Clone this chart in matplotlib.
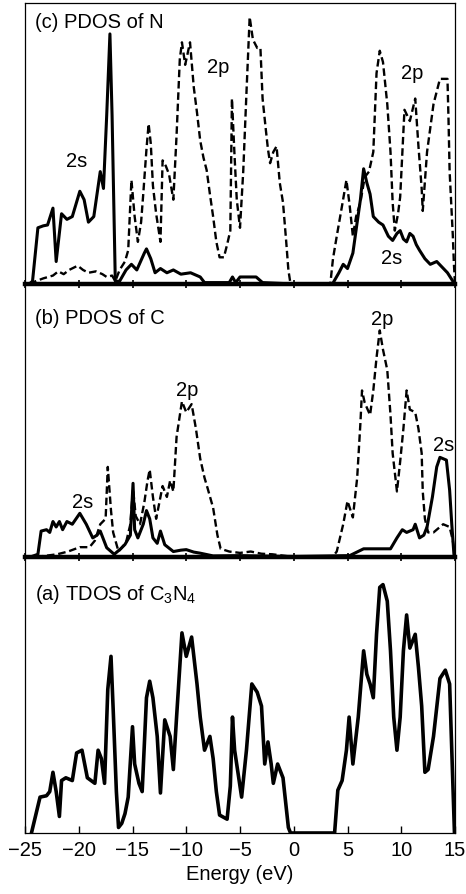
import matplotlib
matplotlib.use("Agg")
import matplotlib.pyplot as plt

plt.rcParams['font.family'] = ['Liberation Sans', 'DejaVu Sans']
plt.rcParams['mathtext.fontset'] = 'custom'
plt.rcParams['mathtext.rm'] = 'Liberation Sans'
plt.rcParams['mathtext.it'] = 'Liberation Sans'

# ---- (c) PDOS of N ----
n2s_e = [-24.6, -24.3, -23.8, -23.3, -22.9, -22.4, -22.1, -21.6, -21.1, -20.6, -19.9, -19.5,
         -19.1, -18.6, -18.0, -17.7, -17.4, -17.1, -16.9, -16.6, -16.2, -15.6, -15.1, -14.6,
         -13.9, -13.7, -13.3, -12.9, -12.4, -11.8, -11.2, -10.5, -9.6, -8.7, -8.3, -6.0,
         -5.7, -5.4, -5.0, -3.5, -2.9, 0.0, 3.6, 4.2, 4.6, 5.0, 5.5, 5.9, 6.2, 6.5, 6.8, 7.1,
         7.4, 7.9, 8.3, 8.8, 9.2, 9.6, 9.9, 10.2, 10.5, 10.8, 11.1, 11.4, 11.7, 12.2, 12.7,
         13.3, 13.8, 14.3, 14.8, 15.0]
n2s_v = [0, 1, 20, 20.7, 21, 27, 8, 25, 23, 24, 33, 30,
         22, 24, 40, 34, 60, 89, 60, 1, 1, 5, 7, 5,
         11, 12.5, 9, 4, 5.5, 4, 5, 3.5, 4, 2.5, 0.5, 0.5,
         2.5, 0.5, 2.5, 2.5, 0.5, 0, 0, 4, 7, 5.5, 11, 22, 30, 41, 36, 32,
         24, 22, 21, 17, 15.5, 18, 19, 16, 15, 18, 17, 14, 12, 9, 7,
         8, 6, 4, 1, 0]

n2p_e = [-24.6, -24.0, -23.3, -22.4, -21.9, -21.4, -20.9, -20.1, -19.6, -19.1, -18.4, -17.8,
         -17.4, -16.9, -16.6, -16.2, -15.7, -15.4, -15.1, -14.8, -14.5, -14.2, -14.0, -13.7,
         -13.5, -13.3, -13.1, -12.8, -12.4, -12.2, -11.9, -11.6, -11.2, -10.9, -10.6, -10.4,
         -10.1, -9.65, -9.3, -9.0, -8.7, -8.4, -8.1, -7.8, -7.5, -7.2, -6.9, -6.5, -6.2, -5.9,
         -5.75, -5.5, -5.3, -5.0, -4.7, -4.4, -4.1, -3.8, -3.4, -3.1, -2.9, -2.6, -2.4, -2.2,
         -1.9, -1.6, -1.3, -1.0, -0.7, -0.5, -0.3, 3.4, 3.65, 4.0, 4.5, 4.9, 5.2, 5.5, 5.8,
         6.2, 6.6, 7.0, 7.4, 7.7, 8.0, 8.3, 8.7, 9.0, 9.2, 9.4, 9.7, 9.9, 10.3, 10.8, 11.3,
         11.6, 11.9, 12.0, 12.4, 13.0, 13.6, 14.3, 14.4, 14.5, 14.8, 14.9, 15.0]
n2p_v = [0, 1, 2, 3, 4.5, 3.5, 5, 6.5, 5, 4, 4.5, 3.5,
         2.5, 3, 1, 5, 8, 12, 37, 24, 15, 22, 32, 48,
         57, 50, 35, 25, 15, 44, 42, 39, 30, 53, 80, 86,
         78, 86, 70, 61, 51, 45, 40.5, 32, 24, 15, 9.5, 9.5, 14, 19,
         66, 45, 30, 20, 40, 68, 95, 87, 84, 84, 66, 55, 48, 43,
         47, 49, 36, 29, 15, 5, 0, 0, 9, 17, 28, 37, 28, 17, 24,
         29, 38, 40, 47, 75, 83, 79, 64, 47, 29, 19, 25, 31, 62, 58, 66,
         49, 34, 26, 47, 64, 73, 73, 58, 40, 17, 7, 0]

# ---- (b) PDOS of C ----
c2s_e = [-24.5, -23.8, -23.5, -23.0, -22.7, -22.4, -22.1, -21.8, -21.5, -21.1, -20.6, -19.9,
         -19.3, -18.7, -18.3, -18.0, -17.4, -16.7, -16.1, -15.7, -15.2, -14.95, -14.8, -14.5,
         -14.0, -13.7, -13.4, -13.1, -12.7, -12.4, -12.0, -11.2, -10.5, -10.0, -9.3, -8.7,
         -7.5, -5.0, -2.0, 0.0, 5.2, 6.5, 9.0, 9.6, 10.1, 10.5, 11.1, 11.3, 11.7, 12.1, 12.4,
         12.9, 13.3, 13.6, 14.2, 14.5, 14.7, 14.9, 15.0]
c2s_v = [0, 1, 9.5, 10, 9, 13, 11, 13, 10, 13, 12, 16,
         12, 7, 8, 9.5, 3.4, 1, 3, 4.6, 8, 27, 10, 7,
         12, 17, 14, 7, 5, 9.5, 4.5, 2, 2.5, 2.7, 1.8, 1.4,
         0.4, 0.5, 0.3, 0.2, 0.5, 3, 3, 7, 10, 9, 10, 12, 7, 8, 11,
         22, 33, 36.5, 35.5, 24.5, 12, 1, 0]

c2p_e = [-24.0, -23.0, -22.0, -21.0, -19.9, -19.0, -18.5, -18.0, -17.5, -17.3, -17.0, -16.8,
         -16.3, -15.6, -15.2, -14.95, -14.7, -14.3, -13.9, -13.6, -13.4, -13.1, -12.8, -12.5,
         -12.2, -11.8, -11.5, -11.2, -10.9, -10.4, -10.0, -9.5, -9.1, -8.7, -8.3, -8.0, -7.5,
         -7.1, -6.8, -6.0, -5.0, -4.0, -3.0, -2.0, -1.0, 0.0, 3.6, 4.0, 4.6, 5.0, 5.5, 5.9,
         6.2, 6.35, 6.6, 7.1, 7.4, 7.7, 8.0, 8.3, 8.7, 9.0, 9.2, 9.6, 9.9, 10.2, 10.5, 10.8,
         11.3, 11.6, 11.9, 12.0, 12.2, 12.5, 13.0, 13.3, 13.9, 14.5, 14.8, 15.0]
c2p_v = [0, 0.5, 1, 2, 3.6, 3.6, 6, 12, 14, 33, 17, 9,
         2, 5.3, 12, 25, 15, 12, 20, 28, 32, 22, 14, 20,
         26, 22, 28, 24, 44, 57, 53, 56, 47, 36, 29, 25, 18,
         8, 3, 2, 1.5, 2, 1.2, 1, 0.5, 0, 0, 2, 12, 20.5, 14.5, 29,
         49, 61, 56.5, 52, 61, 73, 83, 76, 68.5, 52, 38, 24, 35, 47, 61, 54,
         53, 47, 38, 24, 14, 9, 9, 10, 12, 11, 6, 0]

# ---- (a) TDOS of C3N4 ----
tdos_e = [-24.4, -23.6, -23.0, -22.7, -22.4, -22.1, -21.8, -21.6, -21.2, -20.6, -20.2, -19.7,
          -19.2, -18.5, -18.2, -17.9, -17.6, -17.3, -17.0, -16.8, -16.5, -16.3, -16.0, -15.7,
          -15.4, -15.0, -14.8, -14.4, -14.1, -13.7, -13.4, -13.1, -12.7, -12.4, -12.0, -11.5,
          -11.2, -10.9, -10.4, -10.0, -9.5, -9.0, -8.7, -8.3, -7.8, -7.5, -7.2, -6.9, -6.2,
          -5.9, -5.7, -5.5, -4.85, -4.4, -3.9, -3.4, -3.0, -2.7, -2.4, -2.1, -1.9, -1.5, -1.0,
          -0.5, -0.3, 3.8, 4.1, 4.5, 4.9, 5.15, 5.5, 6.0, 6.3, 6.5, 6.8, 7.1, 7.4, 7.7, 8.0,
          8.3, 8.7, 9.0, 9.3, 9.6, 9.9, 10.2, 10.5, 10.8, 11.3, 11.6, 11.9, 12.2, 12.5, 13.0,
          13.6, 14.1, 14.5, 14.7, 14.95]
tdos_v = [0, 13, 13.5, 15, 22, 15, 6, 19, 20, 19, 29, 30,
          20, 18, 30, 27, 18, 52, 64, 45, 15, 2, 3.5, 7,
          13, 38.5, 25, 18, 15, 49, 55, 49, 35, 14.5, 41, 35,
          23, 42, 72.5, 64, 71, 54, 42, 30, 35, 27, 15, 6.5, 5,
          17, 42, 30, 13, 30, 54, 51, 46, 25, 33, 25, 18, 25, 20,
          2, 0, 0, 15.5, 19, 30, 42, 25, 42, 56.5, 66, 57.5, 54, 49, 72, 89,
          90, 84, 66, 42, 30, 42, 66, 79, 67, 72, 60, 46, 22, 23, 35,
          56, 59, 54, 30, 0]

x_ticks = [-25, -20, -15, -10, -5, 0, 5, 10, 15]

FS = 14.5
W, H = 466, 894
fig = plt.figure(figsize=(W / 100, H / 100), dpi=100)

left = 25 / W
width = 430 / W


def panel(top_px, bot_px):
    return fig.add_axes([left, 1 - bot_px / H, width, (bot_px - top_px) / H])


ax_c = panel(3, 284)
ax_b = panel(284, 557)
ax_a = panel(557, 833)

solid_kw = dict(color='black', lw=2.2, solid_joinstyle='round')
dash_kw = dict(color='black', lw=1.7, linestyle=(0, (3.2, 1.6)))

ax_c.plot(n2p_e, n2p_v, **dash_kw)
ax_c.plot(n2s_e, n2s_v, **solid_kw)
ax_b.plot(c2p_e, c2p_v, **dash_kw)
ax_b.plot(c2s_e, c2s_v, **solid_kw)
ax_a.plot(tdos_e, tdos_v, color='black', lw=2.6, solid_joinstyle='round')

for ax in (ax_c, ax_b, ax_a):
    ax.set_xlim(-25, 15)
    ax.set_ylim(0, 100)
    ax.set_yticks([])
    ax.set_xticks(x_ticks)
    for s in ('left', 'right', 'top'):
        ax.spines[s].set_linewidth(0.9)
    ax.patch.set_alpha(0)

for ax in (ax_c, ax_b):
    ax.spines['bottom'].set_linewidth(3.2)
    ax.spines['top'].set_visible(ax is ax_c)
    ax.tick_params(axis='x', direction='inout', length=6, width=1.2,
                   labelbottom=False)

ax_a.spines['top'].set_visible(False)
ax_a.spines['bottom'].set_linewidth(0.9)
ax_a.tick_params(axis='x', direction='in', length=5, width=1.0,
                 labelsize=FS, pad=6)
ax_a.set_xlabel('Energy (eV)', fontsize=FS, labelpad=3)

# panel titles
ax_c.text(0.023, 0.929, '(c) PDOS of N', transform=ax_c.transAxes,
          fontsize=FS, va='center', ha='left')
ax_b.text(0.023, 0.872, '(b) PDOS of C', transform=ax_b.transAxes,
          fontsize=FS, va='center', ha='left')
ax_a.text(0.023, 0.865, r'(a) TDOS of C$_3$N$_4$', transform=ax_a.transAxes,
          fontsize=FS, va='center', ha='left')

# orbital annotations
ax_c.text(-20.2, 43.6, '2s', fontsize=FS, ha='center', va='center')
ax_c.text(-7.0, 77, '2p', fontsize=FS, ha='center', va='center')
ax_c.text(11.0, 75, '2p', fontsize=FS, ha='center', va='center')
ax_c.text(9.1, 9, '2s', fontsize=FS, ha='center', va='center')

ax_b.text(-19.6, 20, '2s', fontsize=FS, ha='center', va='center')
ax_b.text(-9.9, 61, '2p', fontsize=FS, ha='center', va='center')
ax_b.text(8.2, 87, '2p', fontsize=FS, ha='center', va='center')
ax_b.text(13.9, 41, '2s', fontsize=FS, ha='center', va='center')

fig.savefig('out.png', dpi=100)
